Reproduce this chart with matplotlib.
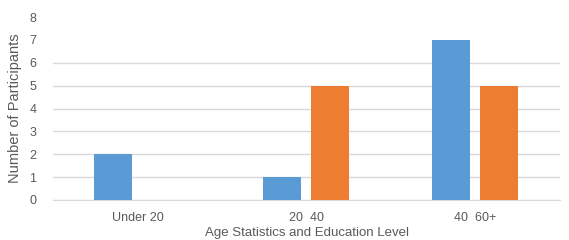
import numpy as np
import matplotlib.pyplot as plt

plt.rcParams['font.family'] = ['Liberation Sans', 'DejaVu Sans']

categories = ["Under 20", "20  40", "40  60+"]
series_a = [2, 1, 7]
series_b = [0, 5, 5]

blue = "#5B9BD5"
orange = "#ED7D31"
text_gray = "#595959"

fig = plt.figure(figsize=(5.69, 2.40), dpi=100)
ax = fig.add_axes([0.093, 0.1667, 0.891, 0.7623])

x = np.arange(len(categories))
w = 0.225
off = 0.142
ax.bar(x - off, series_a, width=w, color=blue, zorder=3)
ax.bar(x + off, series_b, width=w, color=orange, zorder=3)

ax.set_xlim(-0.5, 2.5)
ax.set_ylim(0, 8)
ax.set_yticks(range(9))
ax.set_xticks(x)
ax.set_xticklabels(categories)

# horizontal gridlines (top two lines are not visible in the reference)
for v in range(7):
    ax.axhline(v, color="#D9D9D9", linewidth=1, zorder=1)

for s in ["top", "right", "left"]:
    ax.spines[s].set_visible(False)
ax.spines["bottom"].set_color("#D9D9D9")
ax.tick_params(axis="both", length=0, labelsize=9, labelcolor=text_gray)
ax.tick_params(axis="y", pad=12)
ax.tick_params(axis="x", pad=9)

ax.set_ylabel("Number of Participants", fontsize=10.5, color=text_gray, labelpad=5)
fig.text(0.539, 0.004, "Age Statistics and Education Level", ha="center", va="bottom",
         fontsize=9.5, color=text_gray)

fig.savefig("out.png", dpi=100)
